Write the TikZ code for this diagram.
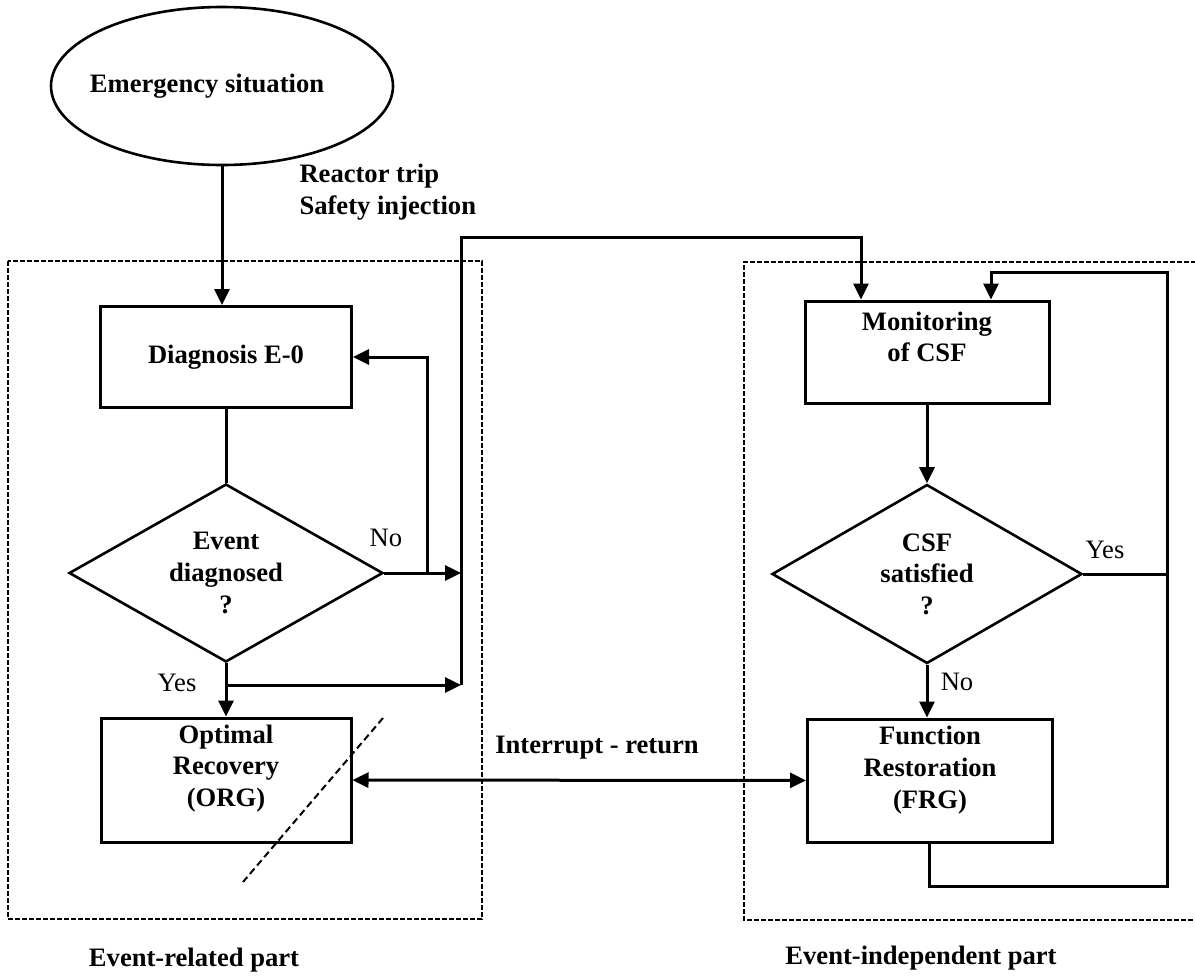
\documentclass[tikz,border=0pt]{standalone}
\usepackage{fontspec}
\setmainfont{Liberation Serif}
\usetikzlibrary{shapes.geometric,arrows.meta}
\newcommand{\diagfont}{\fontsize{13.3}{15.8}\selectfont}

\begin{document}
\begin{tikzpicture}[
  x=0.5pt, y=-0.5pt,
  line width=1.5pt,
  >={Triangle[length=8pt,width=7.5pt]},
  font=\diagfont,
  mytxt/.style={
    font=\diagfont\bfseries,
    align=center,
    inner sep=0pt
    },
  mybox/.style 2 args={
    draw,
    rectangle,
    inner sep=0pt,
    minimum width=#1,
    minimum height=#2
    },
  mydiamond/.style={
    draw,
    diamond,
    line width=1.3pt,
    aspect=1.75,
    inner sep=0pt,
    minimum width=157pt,
    minimum height=89pt,
    font=\diagfont\bfseries,
    align=center
    },
  mypart/.style={
    line width=0.6pt,
    dash pattern=on 2.5pt off 1pt
    }
]
\useasboundingbox (0,0) rectangle (1195,976);

% dashed parts
\draw[mypart] (8,261) rectangle (482,919);
\draw[mypart] (1196,262) -- (744,262) -- (744,920) -- (1196,920);

% event-related side
\node[draw, ellipse, line width=1.3pt, minimum width=171pt, minimum height=79pt, inner sep=0pt,
  label={[mytxt,xshift=-7.5pt]center:Emergency situation}]
  (emerg) at (222,86) {};
\node[mybox={125.5pt}{50.5pt}, font=\diagfont\bfseries] (diag) at (226,357) {Diagnosis E-0};
\node[mydiamond] (event) at (226,573) {Event\\diagnosed\\?};
\node[mybox={125pt}{62pt}, label={[mytxt,yshift=5.75pt]center:Optimal\\Recovery\\(ORG)}]
  (orig) at (226,780) {};

% event-independent side
\node[mybox={122pt}{51pt}, label={[mytxt,yshift=7.5pt]center:Monitoring\\of CSF}]
  (monit) at (927,352) {};
\node[mydiamond, minimum width=155pt, minimum height=89.5pt] (csf) at (927,574) {CSF\\satisfied\\?};
\node[mybox={122.5pt}{61.5pt}, label={[mytxt,yshift=5.25pt]center:Function\\Restoration\\(FRG)}]
  (frg) at (930,780.5) {};

\coordinate (nojoin) at (427,573);
\coordinate (busbot) at (461,685);
\coordinate (bustop) at (461,237);
\coordinate (loopbot) at (1167,886);
\coordinate (looptop) at (1167,272);

\draw[->] (emerg.south) -- (emerg.south |- diag.north);
\draw (diag) -- (event);
\draw[->] (event.east) -- (event.east -| bustop);
\draw[->] (nojoin) |- (diag.east);
\draw[->] (event) -- (orig);
\draw[->] (event.south |- busbot) -- (busbot);
\draw[->] (busbot) -- (bustop) -| ([xshift=-33pt]monit.north);
\draw[<->] (orig) -- (frg);
\draw[->] (monit) -- (csf);
\draw[->] (csf) -- (csf.south |- frg.north);
\draw (csf.east) -- (csf.east -| loopbot);
\draw[->] ([xshift=-0.5pt]frg.south) |- (loopbot) -- (looptop) -| ([xshift=32pt]monit.north);

\draw[line width=1pt, dash pattern=on 3.5pt off 2pt] (383,718) -- (243,882);

% labels
\node[inner sep=0pt] (evno) at (386,538) {No};
\node[inner sep=0pt] (evyes) at (177,683) {Yes};
\node[inner sep=0pt] (csfyes) at (1105,550) {Yes};
\node[inner sep=0pt] (csfno) at (957,682) {No};
\node[mytxt, align=left, anchor=west] (trip) at (298,192) {Reactor trip\\Safety injection};
\node[mytxt] (intr) at (597,748) {Interrupt - return};
\node[mytxt] (erpart) at (194,960) {Event-related part};
\node[mytxt] (eipart) at (921,958) {Event-independent part};

\end{tikzpicture}
\end{document}
